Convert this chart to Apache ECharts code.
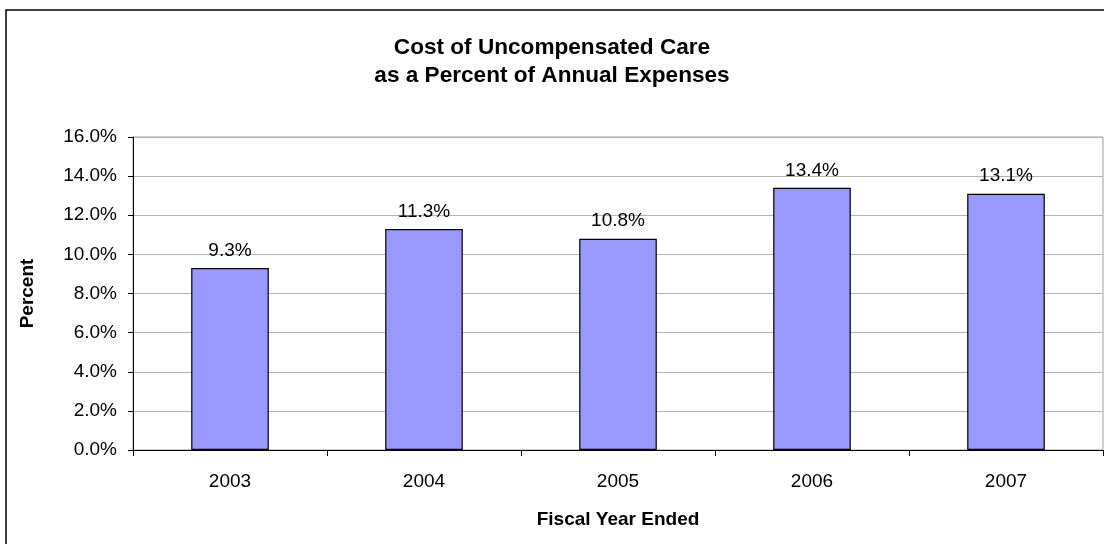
<!DOCTYPE html>
<html>
<head>
<meta charset="utf-8">
<script src="https://cdn.jsdelivr.net/npm/echarts@6/dist/echarts.min.js"></script>
<style>
html,body{margin:0;padding:0;background:#fff;}
#chart{width:1104px;height:544px;}
</style>
</head>
<body>
<div id="chart"></div>
<script>
var categories = ['2003', '2004', '2005', '2006', '2007'];
var values = [9.3, 11.3, 10.8, 13.4, 13.1];
var yTicks = [0, 2, 4, 6, 8, 10, 12, 14, 16];

var chart = echarts.init(document.getElementById('chart'), null, {renderer: 'canvas'});
var font = 'Liberation Sans, Arial, sans-serif';
chart.setOption({
  animation: false,
  backgroundColor: '#fff',
  textStyle: {fontFamily: font},
  title: {
    text: 'Cost of Uncompensated Care\nas a Percent of Annual Expenses',
    left: 'center',
    top: 34,
    padding: 0,
    textStyle: {fontFamily: font, fontSize: 22.6, fontWeight: 'bold', color: '#000', lineHeight: 28, align: 'center'}
  },
  graphic: [{
    type: 'rect',
    shape: {x: 6, y: 10, width: 1200, height: 700},
    style: {fill: 'none', stroke: '#000', lineWidth: 1.5},
    silent: true,
    z: 100
  }],
  grid: {
    left: 133, right: 1, top: 137, bottom: 94,
    show: true, borderColor: '#a0a0a0', borderWidth: 1, backgroundColor: 'transparent'
  },
  xAxis: {
    type: 'category',
    data: categories,
    name: 'Fiscal Year Ended',
    nameLocation: 'middle',
    nameGap: 60,
    nameTextStyle: {fontFamily: font, fontSize: 19, fontWeight: 'bold', color: '#000'},
    axisLine: {show: true, lineStyle: {color: '#000', width: 1}},
    axisTick: {show: true, alignWithLabel: false, length: 6, lineStyle: {color: '#000'}},
    axisLabel: {fontFamily: font, fontSize: 19, color: '#000', margin: 22},
    splitLine: {show: false}
  },
  yAxis: {
    type: 'value',
    min: yTicks[0],
    max: yTicks[yTicks.length - 1],
    interval: 2,
    name: 'Percent',
    nameLocation: 'middle',
    nameGap: 96,
    nameRotate: 90,
    nameTextStyle: {fontFamily: font, fontSize: 19, fontWeight: 'bold', color: '#000'},
    axisLine: {show: true, lineStyle: {color: '#000', width: 1}},
    axisTick: {show: true, inside: false, length: 5, lineStyle: {color: '#000'}},
    axisLabel: {fontFamily: font, fontSize: 19, color: '#000', margin: 16,
      formatter: function (v) { return v.toFixed(1) + '%'; }},
    splitLine: {show: true, lineStyle: {color: '#b4b4b4', width: 1}}
  },
  series: [{
    type: 'bar',
    data: values,
    barCategoryGap: '60%',
    itemStyle: {color: '#9999FF', borderColor: '#000', borderWidth: 1.2},
    label: {
      show: true,
      position: 'top',
      distance: 8,
      fontFamily: font,
      fontSize: 19,
      color: '#000',
      formatter: function (p) { return p.value.toFixed(1) + '%'; }
    }
  }]
});
</script>
</body>
</html>
